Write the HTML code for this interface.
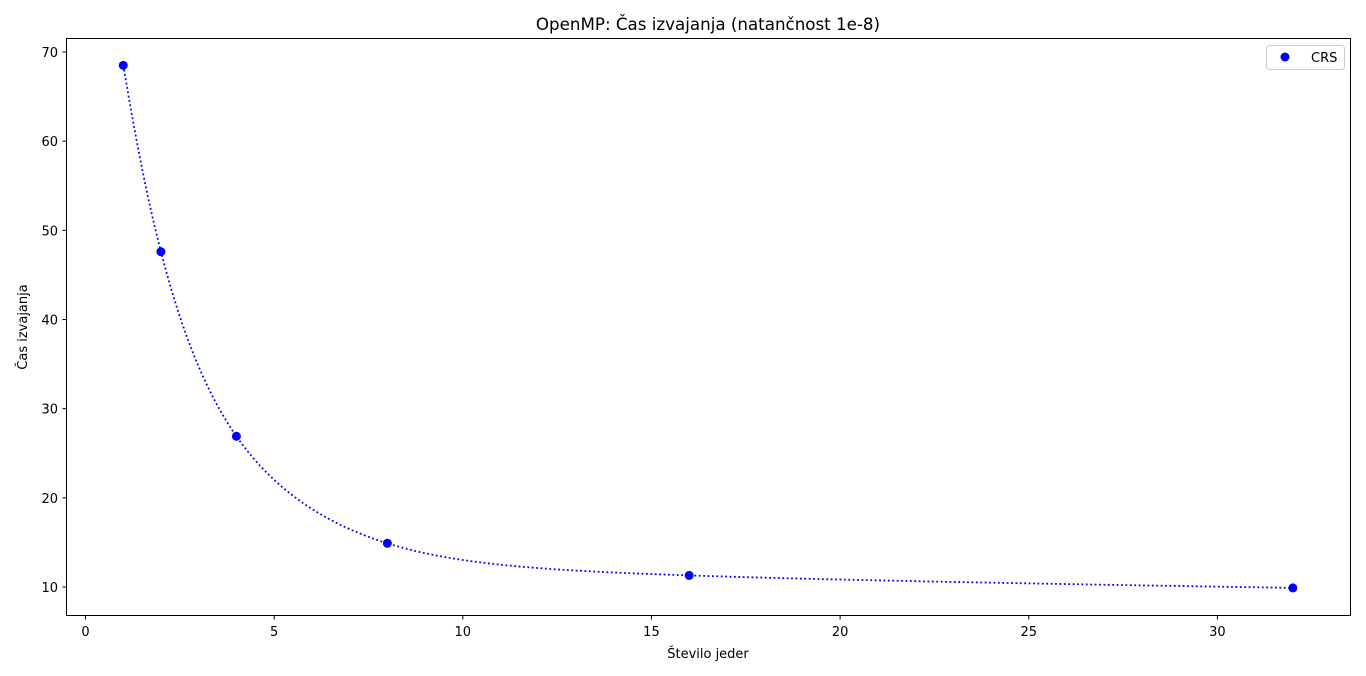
<!DOCTYPE html>
<html><head><meta charset="utf-8"><style>
body{margin:0;background:#fff;}
svg{display:block;font-family:"DejaVu Sans","Liberation Sans",sans-serif;}
</style></head><body>
<svg id="chart" width="1366" height="676">
<text x="708" y="30" font-size="16.7" text-anchor="middle">OpenMP: Čas izvajanja (natančnost 1e-8)</text>
<g id="grid"></g>
<path id="curve" fill="none" stroke="#0000ff" stroke-width="1.8" stroke-dasharray="1.8,2.6"/>
<g id="pts"></g>
<rect x="66.5" y="38.5" width="1284" height="577" fill="none" stroke="#000" stroke-width="1"/>
<text x="708" y="658" font-size="13" text-anchor="middle">Število jeder</text>
<text transform="translate(27,327) rotate(-90)" font-size="13" text-anchor="middle">Čas izvajanja</text>
<g>
<rect x="1266.5" y="45.5" width="78" height="24" rx="3" fill="#fff" stroke="#ccc"/>
<circle cx="1285" cy="57" r="4.5" fill="#0000ff"/>
<text x="1311" y="62" font-size="13">CRS</text>
</g>
</svg>
<script>
const cores=[1,2,4,8,16,32];
const times=[68.5,47.6,26.9,14.9,11.3,9.9];
const xTicks=[0,5,10,15,20,25,30];
const yTicks=[10,20,30,40,50,60,70];
const X=v=>85.5+v*37.73;
const Y=v=>587-(v-10)*8.917;
const ns="http://www.w3.org/2000/svg";
const g=document.getElementById('grid');
xTicks.forEach(t=>{
 const l=document.createElementNS(ns,'line');
 l.setAttribute('x1',X(t));l.setAttribute('x2',X(t));l.setAttribute('y1',615.5);l.setAttribute('y2',619.5);l.setAttribute('stroke','#000');
 
 
 g.appendChild(l);
 const tx=document.createElementNS(ns,'text');
 tx.setAttribute('x',X(t));tx.setAttribute('y',636);tx.setAttribute('font-size','13');tx.setAttribute('text-anchor','middle');tx.textContent=t;
 
 
 g.appendChild(tx);
});
yTicks.forEach(t=>{
 const l=document.createElementNS(ns,'line');
 l.setAttribute('x1',62.5);l.setAttribute('x2',66.5);l.setAttribute('y1',Y(t));l.setAttribute('y2',Y(t));l.setAttribute('stroke','#000');
 
 
 g.appendChild(l);
 const tx=document.createElementNS(ns,'text');
 tx.setAttribute('x',58);tx.setAttribute('y',Y(t)+5);tx.setAttribute('font-size','13');tx.setAttribute('text-anchor','end');tx.textContent=t;
 
 
 g.appendChild(tx);
});
// parametric natural cubic spline (uniform parameter)
function natural(vals){
 const n=vals.length,M=new Array(n).fill(0),B=[],D=[];
 for(let i=1;i<n-1;i++){B.push(4);D.push(6*(vals[i+1]-2*vals[i]+vals[i-1]));}
 const m=B.length,C=new Array(m).fill(1);
 for(let i=1;i<m;i++){const w=1/B[i-1];B[i]-=w;D[i]-=w*D[i-1];}
 const s=new Array(m);s[m-1]=D[m-1]/B[m-1];
 for(let i=m-2;i>=0;i--)s[i]=(D[i]-s[i+1])/B[i];
 for(let i=0;i<m;i++)M[i+1]=s[i];
 return (i,t)=>{const t0=t,t1=1-t;return M[i]*t1*t1*t1/6+M[i+1]*t0*t0*t0/6+(vals[i]-M[i]/6)*t1+(vals[i+1]-M[i+1]/6)*t0;};
}
const sx=natural(cores),sy=natural(times);
let d='';
for(let i=0;i<cores.length-1;i++){
 for(let k=0;k<=60;k++){
  const t=k/60;
  d+=(d?'L':'M')+X(sx(i,t)).toFixed(2)+','+Y(sy(i,t)).toFixed(2);
 }
}
document.getElementById('curve').setAttribute('d',d);
const pg=document.getElementById('pts');
cores.forEach((c,i)=>{
 const p=document.createElementNS(ns,'circle');
 p.setAttribute('cx',X(c));p.setAttribute('cy',Y(times[i]));p.setAttribute('r',4.5);p.setAttribute('fill','#0000ff');
 
 
 pg.appendChild(p);
});
</script>
</body></html>
